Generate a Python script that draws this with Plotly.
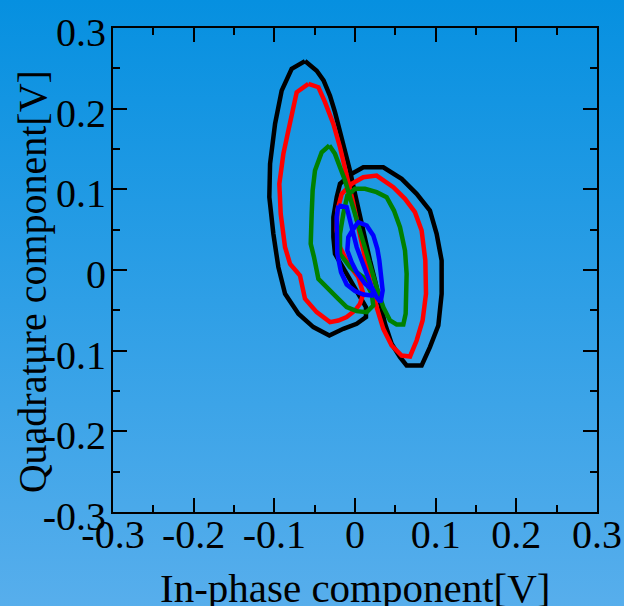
import base64
import plotly.graph_objects as go

# ---- data ----
black_x = [-0.062, -0.0475, -0.039, -0.031, -0.0248, -0.0186, -0.0124, -0.0062, 0.0, 0.0062, 0.0124, 0.0186,
           0.0248, 0.031, 0.0372, 0.0454, 0.0558, 0.064, 0.0826, 0.0929, 0.1033, 0.1074, 0.1074, 0.1012, 0.0929,
           0.0764, 0.0578, 0.0351, 0.0103, -0.0041, -0.0186, -0.0227, -0.0268, -0.0268, -0.0248, -0.0103, 0.0041,
           0.0136, 0.0136, 0.0021, -0.0145, -0.0318, -0.0516, -0.0702, -0.0867, -0.095, -0.1012, -0.1062, -0.1053,
           -0.0991, -0.0909, -0.0785, -0.062]
black_y = [0.259, 0.247, 0.235, 0.216, 0.1956, 0.1729, 0.148, 0.123, 0.0944, 0.0655, 0.0366, 0.0118,
           -0.013, -0.0419, -0.0667, -0.0915, -0.108, -0.1183, -0.1183, -0.0956, -0.0688, -0.0295, 0.0118, 0.0448,
           0.0737, 0.0944, 0.113, 0.1274, 0.1274, 0.1192, 0.1068, 0.0903, 0.0655, 0.0407, 0.02, -0.0048, -0.0295,
           -0.046, -0.0585, -0.0667, -0.0729, -0.0811, -0.0708, -0.0543, -0.0295, 0.0035, 0.0448, 0.0903, 0.1316,
           0.1811, 0.2224, 0.2493, 0.259]

red_x = [-0.0578, -0.0454, -0.0372, -0.0268, -0.0186, -0.0103, -0.0029, 0.0041, 0.0112, 0.0186, 0.0268, 0.0351,
         0.0454, 0.0578, 0.0682, 0.0764, 0.0838, 0.088, 0.0872, 0.0826, 0.0743, 0.062, 0.0475, 0.0268, 0.0103,
         -0.0041, -0.0165, -0.0219, -0.0227, -0.0186, -0.0083, 0.0041, 0.0103, 0.0062, 0.0, -0.0103, -0.0207,
         -0.031, -0.0475, -0.062, -0.0682, -0.0805, -0.0867, -0.0921, -0.0938, -0.0888, -0.0826, -0.0764,
         -0.0723, -0.0578]
red_y = [0.2307, 0.2266, 0.208, 0.1811, 0.1522, 0.1192, 0.0861, 0.0531, 0.02, -0.013, -0.0461, -0.0729,
         -0.0936, -0.106, -0.1072, -0.0874, -0.0626, -0.0295, 0.0118, 0.0489, 0.0717, 0.0882, 0.1026, 0.1171, 0.115,
         0.1068, 0.0944, 0.0737, 0.0489, 0.0283, 0.0076, -0.0089, -0.0295, -0.0419, -0.0502, -0.0584, -0.0626,
         -0.0646, -0.0522, -0.0357, -0.0068, 0.0076, 0.0283, 0.0696, 0.1068, 0.144, 0.1729, 0.2018,
         0.2204, 0.2307]

green_x = [-0.0318, -0.0248, -0.0186, -0.0124, -0.0062, 0.0, 0.0062, 0.0124, 0.0186, 0.0268, 0.0351, 0.0434,
           0.0516, 0.0599, 0.0628, 0.064, 0.064, 0.062, 0.0558, 0.0483, 0.0392, 0.0268, 0.0124, 0.0, -0.0095,
           -0.0145, -0.0186, -0.0186, -0.0062, 0.0103, 0.0207, 0.0227, 0.0145, 0.0021, -0.0103, -0.0207, -0.033,
           -0.0454, -0.0508, -0.0549, -0.0537, -0.0525, -0.0496, -0.0413, -0.0318]
green_y = [0.1543, 0.144, 0.1274, 0.1109, 0.0903, 0.0696, 0.0489, 0.0283, 0.0035, -0.0213, -0.0461, -0.0626,
           -0.0675, -0.0675, -0.0543, -0.0295, -0.0048, 0.0242, 0.0531, 0.0737, 0.0903, 0.0965, 0.1006, 0.1006, 0.0923,
           0.0696, 0.0448, 0.02, 0.0035, -0.0089, -0.0295, -0.044, -0.0523, -0.051, -0.0461, -0.0357, -0.0233,
           -0.0109, 0.0159, 0.0324, 0.0696, 0.0985, 0.1233, 0.146, 0.1543]

blue_x = [-0.0207, -0.0103, -0.0062, -0.0021, 0.0021, 0.0083, 0.0145, 0.0207, 0.0268, 0.0318, 0.0343, 0.033,
          0.0302, 0.0277, 0.0227, 0.0145, 0.0041, -0.0021, -0.0083, -0.0095, -0.0041, 0.0021, 0.0124, 0.0227,
          0.0207, 0.0103, 0.0, -0.0103, -0.0173, -0.0219, -0.0227, -0.0227, -0.0207]
blue_y = [0.0799, 0.0779, 0.0614, 0.0448, 0.0283, 0.0118, -0.0048, -0.0213, -0.0337, -0.0399, -0.0254, -0.0089,
          0.0118, 0.0262, 0.0428, 0.0552, 0.0593, 0.051, 0.0407, 0.0242, 0.0097, -0.0027, -0.0171, -0.0254,
          -0.0316, -0.0304, -0.0262, -0.018, -0.0027, 0.02, 0.0448, 0.0655, 0.0799]

tick_vals = [-0.3, -0.2, -0.1, 0.0, 0.1, 0.2, 0.3]
tick_text = ["-0.3", "-0.2", "-0.1", "0", "0.1", "0.2", "0.3"]

series = [
    (black_x, black_y, "black"),
    (red_x, red_y, "#ff0000"),
    (green_x, green_y, "#008000"),
    (blue_x, blue_y, "#0000ff"),
]

W, H = 624, 606
ML, MR, MT, MB = 113, 27, 28, 94
PW, PH = W - ML - MR, H - MT - MB

fig = go.Figure()
for xs, ys, col in series:
    fig.add_trace(go.Scatter(x=xs, y=ys, mode="lines",
                             line=dict(color=col, width=4.5), showlegend=False,
                             hoverinfo="skip"))

# gradient background as an SVG image
svg = ('<svg xmlns="http://www.w3.org/2000/svg" width="624" height="606" preserveAspectRatio="none">'
       '<defs><linearGradient id="g" x1="0" y1="0" x2="0" y2="1">'
       '<stop offset="0" stop-color="#0690e0"/><stop offset="1" stop-color="#57aeec"/>'
       '</linearGradient></defs><rect width="624" height="606" fill="url(#g)"/></svg>')
src = "data:image/svg+xml;base64," + base64.b64encode(svg.encode()).decode()

font_family = "Liberation Serif"
axis_common = dict(
    range=[-0.3, 0.3], tickmode="array", tickvals=tick_vals, ticktext=tick_text,
    ticks="inside", ticklen=14, tickwidth=2, tickcolor="black",
    minor=dict(dtick=0.05, tick0=0, ticks="inside", ticklen=7, tickwidth=2, tickcolor="black"),
    showline=True, linecolor="black", linewidth=2, mirror="ticks",
    showgrid=False, zeroline=False, automargin=False,
    tickfont=dict(family=font_family, size=40, color="black"),
)

fig.update_layout(
    width=W, height=H,
    margin=dict(l=ML, r=MR, t=MT, b=MB, autoexpand=False),
    paper_bgcolor="#2e9fe6", plot_bgcolor="rgba(0,0,0,0)",
    xaxis=dict(**axis_common, ticklabelstandoff=-14),
    yaxis=dict(**axis_common, ticklabelstandoff=-3, ticklabelshift=4),
    images=[dict(source=src, xref="paper", yref="paper",
                 x=-ML / PW, y=1 + MT / PH, sizex=W / PW, sizey=H / PH,
                 xanchor="left", yanchor="top", sizing="stretch", layer="below")],
    annotations=[
        dict(text="In-phase component[V]", xref="paper", yref="paper", x=0.5, y=-0.158,
             xanchor="center", yanchor="middle", showarrow=False,
             font=dict(family=font_family, size=41, color="black")),
        dict(text="Quadrature component[V]", xref="paper", yref="paper", x=-0.167, y=0.475,
             xanchor="center", yanchor="middle", textangle=-90, showarrow=False,
             font=dict(family=font_family, size=40, color="black")),
    ],
)

fig.write_html("out.html", config={"displayModeBar": False},
               post_script="document.body.style.margin='0px';document.body.style.overflow='hidden';")
